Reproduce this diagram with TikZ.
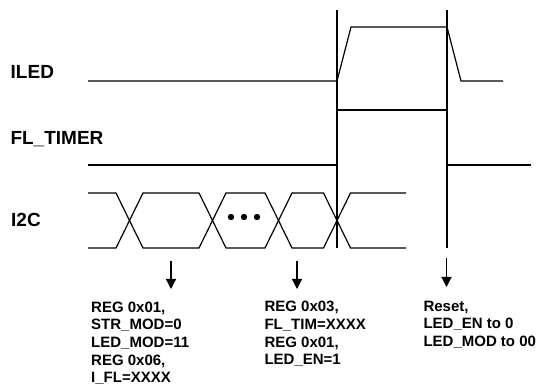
\documentclass[tikz,border=0pt]{standalone}
\usepackage{fontspec}
\setmainfont{Liberation Sans}
\usetikzlibrary{arrows.meta}
\begin{document}
\begin{tikzpicture}[x=1pt,y=-1pt,
  sig/.style={line width=1.2pt,line join=miter},
  guide/.style={line width=1.2pt},
  evarrow/.style={line width=1.2pt,-{Triangle[width=10pt,length=10pt]}},
  siglabel/.style={anchor=base west,inner sep=0pt,font=\bfseries\fontsize{19}{22}\selectfont},
  note/.style={anchor=north west,inner sep=0pt,align=left,font=\bfseries\fontsize{15}{17.6}\selectfont}]
\useasboundingbox (0,0) rectangle (538,387);
% labels
\node[siglabel] (lILED) at (10.5,79) {ILED};
\node[siglabel] (lFL) at (10.3,145) {FL\_TIMER};
\node[siglabel] (lI2C) at (11,227) {I2C};
% guide lines
\coordinate (g1t) at (337,10); \coordinate (g1b) at (337,248);
\coordinate (g2t) at (447,10); \coordinate (g2b) at (447,248);
\draw[guide] (g1t) -- (g1b);
\draw[guide] (g2t) -- (g2b);
% ILED
\draw[sig] (88,81) -- (337,81) -- (351,27) -- (447,27) -- (461,81) -- (503,81);
% FL_TIMER
\draw[sig] (88,165) -- (337,165) -- (337,110) -- (447,110) -- (447,165) -- (531,165);
% I2C bus
\draw[sig] (88,193) -- (116,193) -- (143,248) -- (199,248) -- (226,193) -- (265,193) -- (292,248) -- (323.5,248) -- (350.5,193) -- (406,193);
\draw[sig] (88,248) -- (116,248) -- (143,193) -- (199,193) -- (226,248) -- (265,248) -- (292,193) -- (323.5,193) -- (350.5,248) -- (406,248);
\fill (231,217) circle (3.2) (244,217) circle (3.2) (257,217) circle (3.2);
% arrows
\coordinate (a1s) at (171,261); \coordinate (a1e) at (171,289);
\coordinate (a2s) at (297,261); \coordinate (a2e) at (297,289);
\coordinate (a3s) at (446.5,258); \coordinate (a3e) at (446.5,287);
\draw[evarrow] (a1s) -- (a1e);
\draw[evarrow] (a2s) -- (a2e);
\draw[evarrow] (a3s) -- (a3e);
% notes
\node[note] (n1) at (91,301.7) {REG 0x01,\\STR\_MOD=0\\LED\_MOD=11\\REG 0x06,\\I\_FL=XXXX};
\node[note] (n2) at (264.3,301.2) {REG 0x03,\\FL\_TIM=XXXX\\REG 0x01,\\LED\_EN=1};
\node[note] (n3) at (423.3,300.8) {Reset,\\LED\_EN to 0\\LED\_MOD to 00};
\end{tikzpicture}
\end{document}
